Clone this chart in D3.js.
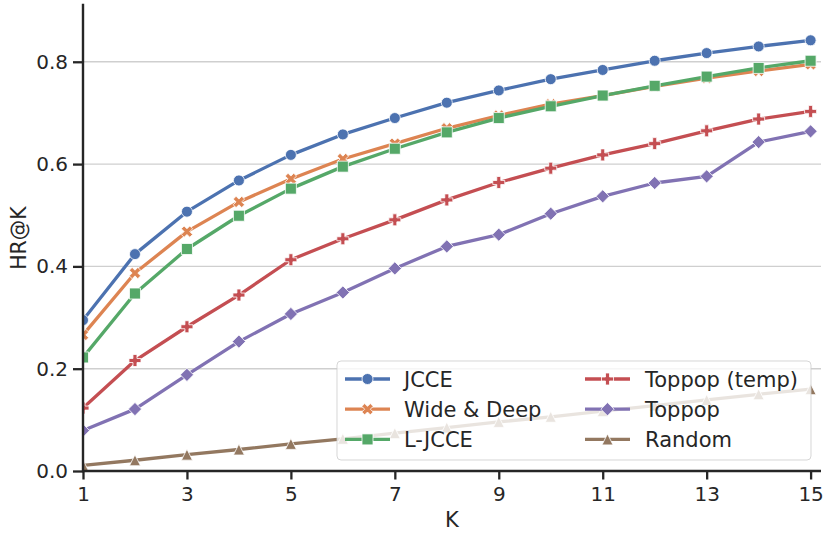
<!DOCTYPE html>
<html>
<head>
<meta charset="utf-8">
<script src="https://cdn.jsdelivr.net/npm/d3@7"></script>
<style>
  html, body { margin: 0; padding: 0; background: #fff; }
  svg { display: block; font-family: "DejaVu Sans", sans-serif; }
</style>
</head>
<body>
<svg id="chart" width="830" height="554"></svg>
<script>
const ks = [1,2,3,4,5,6,7,8,9,10,11,12,13,14,15];
const xTicks = [1,3,5,7,9,11,13,15];
const yTicks = [0.0,0.2,0.4,0.6,0.8];
const seriesNames = ["JCCE","Wide & Deep","L-JCCE","Toppop (temp)","Toppop","Random"];
const jcce      = [0.295,0.424,0.507,0.568,0.618,0.658,0.690,0.720,0.744,0.766,0.784,0.802,0.817,0.830,0.842];
const wideDeep  = [0.266,0.387,0.468,0.526,0.571,0.610,0.640,0.670,0.695,0.717,0.734,0.752,0.768,0.782,0.795];
const ljcce     = [0.222,0.347,0.434,0.499,0.552,0.595,0.630,0.662,0.690,0.713,0.734,0.753,0.771,0.788,0.802];
const toppopT   = [0.123,0.216,0.282,0.344,0.413,0.454,0.491,0.530,0.564,0.592,0.618,0.640,0.665,0.688,0.703];
const toppop    = [0.079,0.121,0.188,0.253,0.307,0.349,0.396,0.439,0.462,0.503,0.537,0.563,0.576,0.643,0.664];
const random    = [0.011,0.021,0.032,0.042,0.053,0.063,0.074,0.085,0.096,0.106,0.117,0.128,0.139,0.150,0.160];
const seriesValues = [jcce, wideDeep, ljcce, toppopT, toppop, random];
const colors = ["#4C72B0","#DD8452","#55A868","#C44E52","#8172B3","#937860"];
const markers = ["circle","xfilled","square","plusfilled","diamond","triangle"];

const svg = d3.select("#chart");
const L = 83, R = 821, T = 5, B = 471;
const x = d3.scaleLinear().domain([1, 15.2]).range([L, R]);
const y = d3.scaleLinear().domain([0, 0.911]).range([B, T]);
const ink = "#262626";

// grid
svg.append("g").selectAll("line").data(yTicks).join("line")
  .attr("x1", L).attr("x2", R)
  .attr("y1", d => y(d)).attr("y2", d => y(d))
  .attr("stroke", "#cfcfcf").attr("stroke-width", 1.4);

svg.append("defs").append("clipPath").attr("id","clip")
  .append("rect").attr("x", L).attr("y", T).attr("width", R-L).attr("height", B-T);

function markerPath(type, s) {
  const h = s/2;
  if (type === "circle") return d3.symbol(d3.symbolCircle, Math.PI*h*h)();
  if (type === "square") return `M${-h},${-h}H${h}V${h}H${-h}Z`;
  if (type === "diamond") { const d = h*1.2; return `M0,${-d}L${d},0L0,${d}L${-d},0Z`; }
  if (type === "triangle") return `M0,${-h}L${h},${h}L${-h},${h}Z`;
  const pts = [[-1,-3],[1,-3],[1,-1],[3,-1],[3,1],[1,1],[1,3],[-1,3],[-1,1],[-3,1],[-3,-1],[-1,-1]]
    .map(p => [p[0]*s/6, p[1]*s/6]);
  let rot = pts;
  if (type === "xfilled") {
    const c = Math.SQRT1_2;
    rot = pts.map(p => [(p[0]-p[1])*c, (p[0]+p[1])*c]);
  }
  return "M" + rot.map(p => p[0].toFixed(2)+","+p[1].toFixed(2)).join("L") + "Z";
}
const msize = [11,12,11,12,11,11];

const plot = svg.append("g").attr("clip-path","url(#clip)");
const line = d3.line().x((d,i) => x(ks[i])).y(d => y(d));
seriesValues.forEach((vals, si) => {
  const g = plot.append("g");
  g.append("path").datum(vals).attr("d", line)
    .attr("fill","none").attr("stroke", colors[si]).attr("stroke-width", 3.3)
    .attr("stroke-linejoin","round").attr("stroke-linecap","round");
  g.selectAll("path.m").data(vals).join("path").attr("class","m")
    .attr("transform", (d,i) => `translate(${x(ks[i])},${y(d)})`)
    .attr("d", markerPath(markers[si], msize[si]))
    .attr("fill", colors[si]).attr("stroke","#fff").attr("stroke-width",0.8);
});

// axes
const xAxis = d3.axisBottom(x).tickValues(xTicks).tickFormat(d3.format("d")).tickSize(8.5).tickPadding(7);
const yAxis = d3.axisLeft(y).tickValues(yTicks).tickFormat(d3.format(".1f")).tickSize(10).tickPadding(5);
const gx = svg.append("g").attr("transform", `translate(0,${B})`).call(xAxis);
const gy = svg.append("g").attr("transform", `translate(${L},0)`).call(yAxis);
[gx, gy].forEach(g => {
  g.select(".domain").remove();
  g.selectAll(".tick line").attr("stroke", ink).attr("stroke-width", 2.3);
  g.selectAll(".tick text").attr("fill", ink).attr("font-size", 20).attr("font-family","DejaVu Sans");
});
svg.append("line").attr("x1", L).attr("x2", R).attr("y1", B).attr("y2", B)
  .attr("stroke", ink).attr("stroke-width", 2.4);
svg.append("line").attr("x1", L).attr("x2", L).attr("y1", T).attr("y2", B)
  .attr("stroke", ink).attr("stroke-width", 2.4).attr("stroke-linecap","square");

svg.append("text").attr("x", (L+R)/2).attr("y", 527).attr("text-anchor","middle")
  .attr("font-size", 21).attr("fill", ink).text("K");
svg.append("text").attr("transform", `translate(26,${(T+B)/2}) rotate(-90)`)
  .attr("text-anchor","middle").attr("font-size", 20.5).attr("fill", ink).text("HR@K");

// legend
const lg = svg.append("g");
lg.append("rect").attr("x", 337).attr("y", 361).attr("width", 474).attr("height", 99)
  .attr("rx", 4).attr("fill", "#fff").attr("fill-opacity", 0.8)
  .attr("stroke", "#cccccc").attr("stroke-opacity", 0.8).attr("stroke-width", 1);
seriesNames.forEach((name, si) => {
  const col = Math.floor(si/3), row = si % 3;
  const hx = col === 0 ? 345 : 585;
  const tx = col === 0 ? 404 : 645;
  const ry = 379 + row*30.2;
  lg.append("line").attr("x1", hx).attr("x2", hx+45).attr("y1", ry).attr("y2", ry)
    .attr("stroke", colors[si]).attr("stroke-width", 3.3);
  lg.append("path").attr("transform", `translate(${hx+22.5},${ry})`)
    .attr("d", markerPath(markers[si], msize[si]))
    .attr("fill", colors[si]).attr("stroke","#fff").attr("stroke-width",0.8);
  lg.append("text").attr("x", tx).attr("y", ry+7.5).attr("font-size", 21).attr("fill", ink).text(name);
});
</script>
</body>
</html>
